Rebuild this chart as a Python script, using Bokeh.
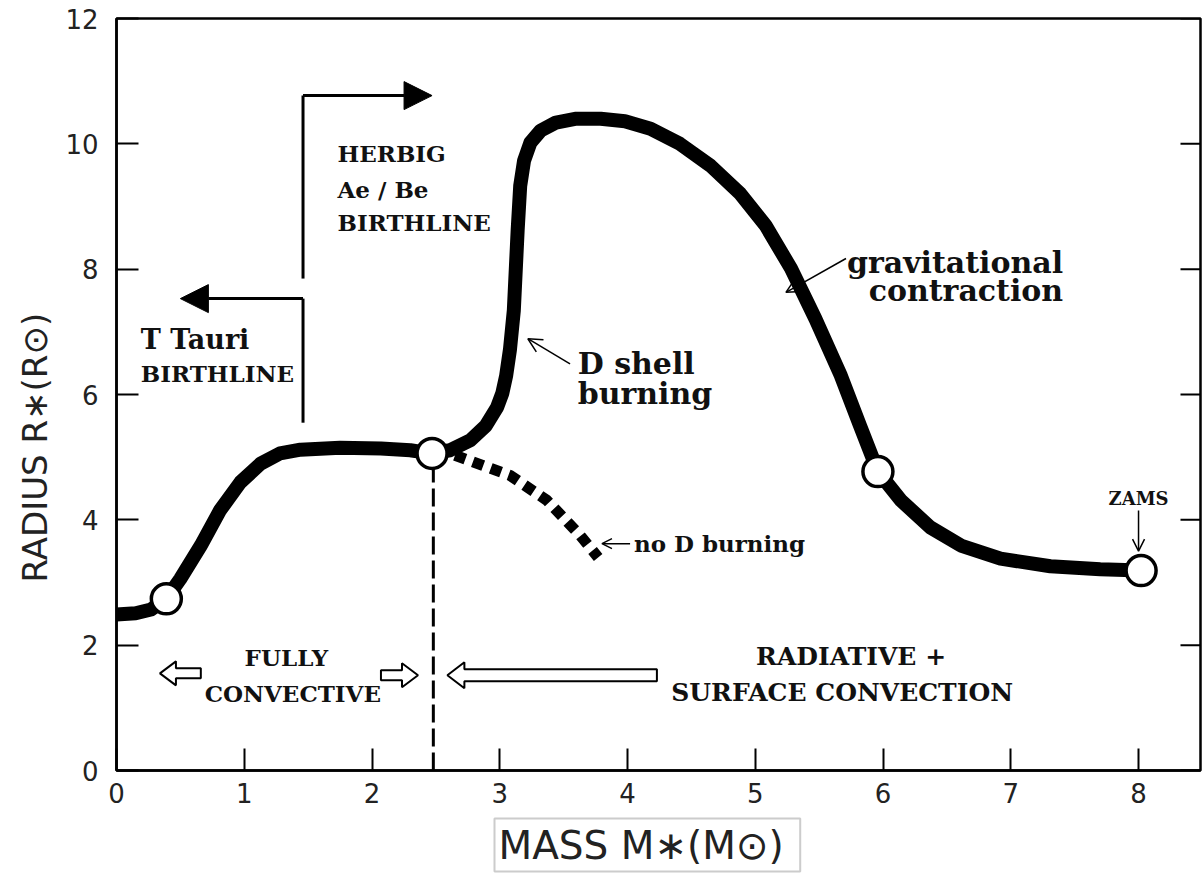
import math
from bokeh.plotting import figure
from bokeh.models import Range1d, FixedTicker, Label, Arrow, NormalHead, OpenHead, Title
from bokeh.embed import file_html
from bokeh.resources import INLINE

# ---------------- data ----------------
track_mass = [0.00, 0.15, 0.27, 0.39, 0.50, 0.66, 0.81, 0.97, 1.13, 1.28, 1.44, 1.75, 2.07,
              2.30, 2.46, 2.61, 2.77, 2.89, 2.98, 3.02, 3.05, 3.08, 3.11, 3.14, 3.16, 3.19,
              3.24, 3.32, 3.44, 3.59, 3.79, 3.98, 4.18, 4.41, 4.65, 4.88, 5.08, 5.28, 5.47,
              5.67, 5.82, 5.96, 6.14, 6.37, 6.61, 6.92, 7.31, 7.70, 8.02]
track_radius = [2.49, 2.51, 2.57, 2.74, 3.06, 3.59, 4.15, 4.60, 4.90, 5.06, 5.12, 5.15, 5.14,
                5.11, 5.06, 5.11, 5.27, 5.50, 5.80, 6.02, 6.30, 6.72, 7.34, 8.62, 9.33, 9.73,
                10.02, 10.21, 10.34, 10.40, 10.40, 10.36, 10.24, 10.00, 9.65, 9.21, 8.70, 8.01,
                7.21, 6.30, 5.50, 4.77, 4.31, 3.88, 3.59, 3.38, 3.26, 3.21, 3.19]

marker_mass = [0.39, 2.47, 5.96, 8.02]
marker_radius = [2.74, 5.06, 4.77, 3.19]

noD_mass = [2.65, 3.08, 3.37, 3.63, 3.77]
noD_radius = [5.03, 4.71, 4.31, 3.75, 3.40]

conv_boundary_mass = 2.48
birthline_mass = 1.46

x_ticks = [0, 1, 2, 3, 4, 5, 6, 7, 8]
y_ticks = [0, 2, 4, 6, 8, 10, 12]

X_END, Y_END = 8.485, 12
W, H = 1202, 885
ML, MR, MT, MB = 116, 2, 18, 115
PXX = X_END / (W - ML - MR)      # data units per screen pixel (x)
PXY = Y_END / (H - MT - MB)      # data units per screen pixel (y)

SANS = "DejaVu Sans"
SERIF = "DejaVu Serif"

p = figure(width=W, height=H, x_range=Range1d(0, X_END), y_range=Range1d(0, Y_END),
           output_backend="svg", toolbar_location=None,
           min_border_left=ML, min_border_right=MR, min_border_top=MT, min_border_bottom=MB)
p.grid.visible = False
p.outline_line_color = "black"
p.outline_line_width = 2.5
p.background_fill_color = "white"
p.border_fill_color = "white"

for ax, ticks, standoff in ((p.xaxis[0], x_ticks, 12), (p.yaxis[0], y_ticks, 18)):
    ax.ticker = FixedTicker(ticks=ticks)
    ax.major_tick_in = 22
    ax.major_tick_out = 0
    ax.minor_tick_in = 0
    ax.minor_tick_out = 0
    ax.major_tick_line_width = 2
    ax.axis_line_width = 2.5
    ax.major_label_text_font = SANS
    ax.major_label_text_font_size = "26px"
    ax.major_label_text_color = "#222222"
    ax.major_label_standoff = standoff

# inward ticks on the right-hand frame edge
p.ray(x=[X_END] * len(y_ticks), y=y_ticks, length=20, length_units="screen",
      angle=math.pi, line_color="black", line_width=2)

# axis titles
p.add_layout(Title(text="RADIUS R\u2217(R\u2299)", align="left", offset=188,
                   text_font=SANS, text_font_size="34px", text_font_style="normal",
                   text_color="#222222", standoff=16), "left")
p.add_layout(Title(text="MASS  M\u2217(M\u2299)", align="left", offset=378,
                   text_font=SANS, text_font_size="39px", text_font_style="normal",
                   text_color="#222222", standoff=22, border_line_color="#cccccc",
                   border_line_width=2, padding=4), "below")

# dashed boundary between fully convective and radiative
p.segment(x0=[conv_boundary_mass], y0=[0], x1=[conv_boundary_mass], y1=[marker_radius[1]],
          line_color="black", line_width=3, line_dash="18 6")

# main track
p.line(track_mass, track_radius, line_color="black", line_width=14,
       line_join="round", line_cap="round")
# no D burning branch
p.line(noD_mass, noD_radius, line_color="black", line_width=11, line_dash="11 8", line_cap="butt")
# open circles
p.scatter(marker_mass, marker_radius, size=30, fill_color="white", line_color="black", line_width=3.5)

# ---------------- annotations ----------------
# Herbig Ae/Be birthline bracket
p.line([birthline_mass, birthline_mass], [7.85, 10.77], line_color="black", line_width=3)
p.add_layout(Arrow(end=NormalHead(size=28, fill_color="black", line_color="black"),
                   x_start=birthline_mass, y_start=10.77, x_end=2.47, y_end=10.77,
                   line_width=3, line_color="black"))
# T Tauri birthline bracket
p.line([birthline_mass, birthline_mass], [5.55, 7.53], line_color="black", line_width=3)
p.add_layout(Arrow(end=NormalHead(size=28, fill_color="black", line_color="black"),
                   x_start=birthline_mass, y_start=7.53, x_end=0.50, y_end=7.53,
                   line_width=3, line_color="black"))


def label(x, y, text, size, align="left", baseline="middle", font=SERIF, style="bold"):
    p.add_layout(Label(x=x, y=y, text=text, text_font=font, text_font_size=size,
                       text_font_style=style, text_align=align, text_baseline=baseline,
                       text_color="#111111"))


label(1.73, 9.85, "HERBIG", "23px")
label(1.73, 9.27, "Ae / Be", "23px")
label(1.73, 8.74, "BIRTHLINE", "23px")
label(0.19, 6.88, "T Tauri", "27px")
label(0.19, 6.33, "BIRTHLINE", "23px")
label(7.41, 8.11, "gravitational", "30px", align="right", baseline="alphabetic")
label(7.41, 7.66, "contraction", "30px", align="right", baseline="alphabetic")
label(3.61, 6.49, "D shell", "30px", baseline="alphabetic")
label(3.61, 6.02, "burning", "30px", baseline="alphabetic")
label(4.05, 3.62, "no D burning", "23px")
label(8.00, 4.34, "ZAMS", "18px", align="center")
label(1.33, 1.80, "FULLY", "23px", align="center")
label(1.38, 1.23, "CONVECTIVE", "23px", align="center")
label(5.75, 1.82, "RADIATIVE +", "25px", align="center")
label(5.68, 1.245, "SURFACE CONVECTION", "25px", align="center")

# thin pointer arrows
for xs, ys, xe, ye, sz in ((5.71, 8.17, 5.24, 7.63, 14), (3.55, 6.49, 3.22, 6.89, 14),
                           (4.02, 3.62, 3.80, 3.62, 10), (8.00, 4.15, 8.00, 3.50, 12)):
    p.add_layout(Arrow(end=OpenHead(size=sz, line_width=1.5, line_color="black"),
                       x_start=xs, y_start=ys, x_end=xe, y_end=ye,
                       line_width=1.5, line_color="black"))


# hollow block arrows
def hollow_arrow(tip, tail, y, shaft=5, head=12, head_len=16):
    d = 1 if tail > tip else -1
    hb = tip + d * head_len * PXX
    xs = [tip, hb, hb, tail, tail, hb, hb]
    ys = [y, y + head * PXY, y + shaft * PXY, y + shaft * PXY, y - shaft * PXY,
          y - shaft * PXY, y - head * PXY]
    return xs, ys


arrows = [hollow_arrow(0.34, 0.66, 1.55), hollow_arrow(2.36, 2.07, 1.52),
          hollow_arrow(2.59, 4.23, 1.52, shaft=6, head=13, head_len=17)]
p.patches([a[0] for a in arrows], [a[1] for a in arrows], fill_color="white",
          line_color="black", line_width=2)

open("out.html", "w").write(file_html(p, INLINE))
